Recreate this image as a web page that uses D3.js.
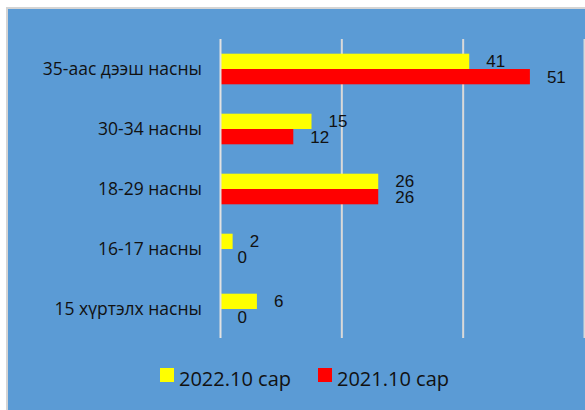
<!DOCTYPE html>
<html><head><meta charset="utf-8">
<script src="https://cdn.jsdelivr.net/npm/d3@7"></script>
<style>html,body{margin:0;padding:0;background:#fff;overflow:hidden}</style>
</head><body>
<svg id="c" width="585" height="410"></svg>
<script>
const categories = ["35-аас дээш насны", "30-34 насны", "18-29 насны", "16-17 насны", "15 хүртэлх насны"];
const series2022 = [41, 15, 26, 2, 6];
const series2021 = [51, 12, 26, 0, 0];
const seriesNames = ["2022.10 сар", "2021.10 сар"];
const xTicks = [0, 20, 40, 60];

const svg = d3.select("#c");
const W = 585, H = 410;
// frame
svg.append("rect").attr("x", 7).attr("y", 8).attr("width", W).attr("height", H)
  .attr("fill", "#5B9BD5").attr("stroke", "#D4D4D4").attr("stroke-width", 2);

const x = d3.scaleLinear().domain([0, 60]).range([220.5, 584.5]);
const y = d3.scaleBand().domain(categories).range([39, 339]).paddingInner(0.49).paddingOuter(0.245);
const sub = d3.scaleBand().domain(seriesNames).range([0, y.bandwidth()]);
const colors = {"2022.10 сар": "#FFFF00", "2021.10 сар": "#FF0000"};

// gridlines
svg.append("g").selectAll("line").data(xTicks.slice(1)).join("line")
  .attr("x1", d => x(d)).attr("x2", d => x(d)).attr("y1", 39).attr("y2", 338)
  .attr("stroke", "#D9D9D9").attr("stroke-width", 2);

const rows = categories.map((c, i) => ({c, vals: [series2022[i], series2021[i]]}));
const g = svg.append("g");
rows.forEach(r => {
  r.vals.forEach((v, j) => {
    const s = seriesNames[j];
    const yy = y(r.c) + sub(s);
    g.append("rect").attr("x", x(0)).attr("y", yy)
      .attr("width", x(v) - x(0)).attr("height", sub.bandwidth())
      .attr("fill", colors[s]);
    g.append("text").attr("x", x(v) + 17).attr("y", yy + sub.bandwidth() / 2 + 6)
      .attr("font-family", "Liberation Sans, Arial, sans-serif").attr("font-size", 17)
      .attr("fill", "#111").text(v);
  });
});

// axis line
svg.append("line").attr("x1", x(0)).attr("x2", x(0)).attr("y1", 39).attr("y2", 338)
  .attr("stroke", "#E2E2E2").attr("stroke-width", 2);

// category labels
svg.append("g").selectAll("text").data(categories).join("text")
  .attr("x", 202).attr("y", d => y(d) + y.bandwidth() / 2 + 5.5)
  .attr("text-anchor", "end")
  .attr("font-family", "Open Sans, sans-serif").attr("font-size", 17.5)
  .attr("fill", "#111").text(d => d);

// legend
const leg = [{n: seriesNames[0], sx: 160, tx: 179}, {n: seriesNames[1], sx: 318, tx: 337}];
leg.forEach(l => {
  svg.append("rect").attr("x", l.sx).attr("y", 368).attr("width", 14).attr("height", 14).attr("fill", colors[l.n]);
  svg.append("text").attr("x", l.tx).attr("y", 386)
    .attr("font-family", "Open Sans, sans-serif").attr("font-size", 20)
    .attr("fill", "#111").text(l.n);
});
</script>
</body></html>
